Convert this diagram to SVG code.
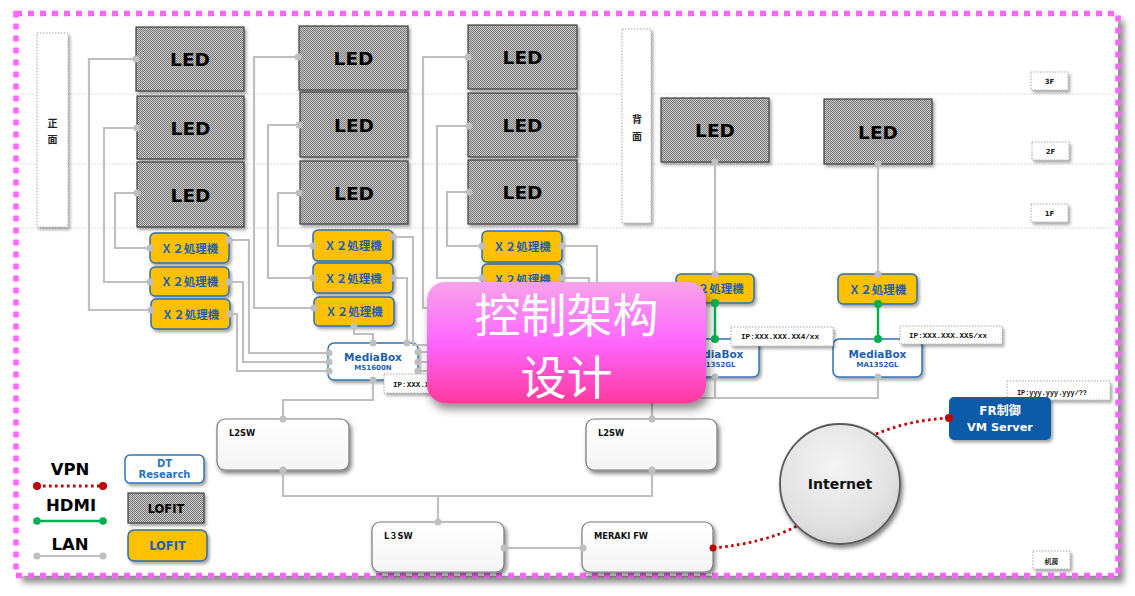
<svg xmlns="http://www.w3.org/2000/svg" width="1135" height="596" viewBox="0 0 1135 596">
<defs>
<style>
.led{fill:url(#chk);stroke:#3f3f3f;stroke-width:1.2;filter:url(#sh)}
.ledt{font-family:"DejaVu Sans",sans-serif;font-weight:bold;font-size:18.5px;fill:#000;text-anchor:middle}
.x2{fill:#ffc000;stroke:#2e6db4;stroke-width:1.5;filter:url(#sh)}
.x2t{font-family:"Noto Sans CJK JP",sans-serif;font-weight:bold;font-size:11.5px;fill:#1f5fae;text-anchor:middle}
.mb{fill:#fff;stroke:#2e75b6;stroke-width:1.5;filter:url(#sh)}
.mbt{font-family:"DejaVu Sans",sans-serif;font-weight:bold;font-size:10.5px;fill:#1f5fae;text-anchor:middle}
.mbs{font-family:"DejaVu Sans",sans-serif;font-weight:bold;font-size:7px;fill:#1f5fae;text-anchor:middle}
.lbl{fill:#fff;stroke:#a8a8a8;stroke-width:1;stroke-dasharray:1.5 1.5;filter:url(#sh)}
.ipt{font-family:"Liberation Mono",monospace;font-weight:bold;font-size:7.6px;fill:#111}
.flt{font-family:"DejaVu Sans",sans-serif;font-weight:bold;font-size:7px;fill:#222;text-anchor:middle}
.cjk{font-family:"Noto Sans CJK JP",sans-serif;font-weight:bold;font-size:10px;fill:#222;text-anchor:middle}
.sw{fill:url(#swg);stroke:#7a7a7a;stroke-width:1.2;filter:url(#sh2)}
.swt{font-family:"DejaVu Sans","Noto Sans CJK JP",sans-serif;font-weight:bold;font-size:8.3px;fill:#111}
.lan{fill:none;stroke:#bfbfbf;stroke-width:2.2}
.ld{fill:#bfbfbf}
.hdmi{fill:none;stroke:#00b050;stroke-width:2.4}
.hd{fill:#00b050}
.vpn{fill:none;stroke:#c00000;stroke-width:2.8;stroke-dasharray:2.6 3.4}
.vd{fill:#c00000}
.leg{font-family:"DejaVu Sans",sans-serif;font-weight:bold;font-size:16.5px;fill:#000;text-anchor:middle}
.floor{stroke:#d0d0d0;stroke-width:1;stroke-dasharray:1.5 1.5}
.ttl{font-family:"Noto Sans CJK SC",sans-serif;font-weight:400;font-size:46px;fill:#fff;text-anchor:middle}
</style>
<pattern id="chk" width="2" height="2" patternUnits="userSpaceOnUse">
<rect width="2" height="2" fill="#c6c6c6"/>
<rect width="1" height="1" fill="#7c7c7c"/>
<rect x="1" y="1" width="1" height="1" fill="#7c7c7c"/>
</pattern>
<linearGradient id="swg" x1="0" y1="0" x2="0" y2="1">
<stop offset="0" stop-color="#ffffff"/>
<stop offset="1" stop-color="#f4f4f4"/>
</linearGradient>
<linearGradient id="pinkg" x1="0" y1="0" x2="0" y2="1">
<stop offset="0" stop-color="#f7a3ea"/>
<stop offset="0.5" stop-color="#ff66ff"/>
<stop offset="1" stop-color="#ff3a9e"/>
</linearGradient>
<radialGradient id="netg" cx="0.45" cy="0.35" r="0.7">
<stop offset="0" stop-color="#f4f4f4"/>
<stop offset="0.7" stop-color="#e2e2e2"/>
<stop offset="1" stop-color="#cfcfcf"/>
</radialGradient>
<filter id="sh" x="-20%" y="-20%" width="150%" height="160%">
<feDropShadow dx="2" dy="2.5" stdDeviation="1.5" flood-color="#000" flood-opacity="0.35"/>
</filter>
<filter id="sh2" x="-20%" y="-20%" width="150%" height="170%">
<feDropShadow dx="2" dy="3" stdDeviation="2" flood-color="#000" flood-opacity="0.5"/>
</filter>
<filter id="shPage" x="-5%" y="-5%" width="110%" height="115%">
<feDropShadow dx="6" dy="7" stdDeviation="3" flood-color="#000" flood-opacity="0.45"/>
</filter>
<filter id="shBig" x="-20%" y="-20%" width="140%" height="150%">
<feDropShadow dx="3" dy="6" stdDeviation="5" flood-color="#000" flood-opacity="0.45"/>
</filter>
</defs>

<rect width="1135" height="596" fill="#fff"/>
<rect x="16" y="13.5" width="1102" height="562" fill="#fff" filter="url(#shPage)"/>
<rect x="16" y="13.5" width="1102" height="562" fill="none" stroke="#ff66ff" stroke-width="5.5" stroke-dasharray="6 6"/>

<g id="floors">
<line class="floor" x1="19" y1="94" x2="1115" y2="94"/>
<line class="floor" x1="19" y1="164" x2="1115" y2="164"/>
<line class="floor" x1="19" y1="228" x2="1115" y2="228"/>
</g>

<g id="front"><rect class="lbl" x="37" y="33" width="31" height="194"/><text class="cjk" x="52.5" y="126.5">正</text><text class="cjk" x="52.5" y="142.5">面</text></g>
<g id="back"><rect class="lbl" x="622" y="29" width="29" height="194"/><text class="cjk" x="637" y="122.5">背</text><text class="cjk" x="637" y="139.5">面</text></g>

<g id="f3"><rect class="lbl" x="1031" y="72" width="37" height="18"/><text class="flt" x="1049.5" y="83.5">3F</text></g>
<g id="f2"><rect class="lbl" x="1032" y="142" width="37" height="18"/><text class="flt" x="1050.5" y="153.5">2F</text></g>
<g id="f1"><rect class="lbl" x="1031" y="204" width="37" height="18"/><text class="flt" x="1049.5" y="215.5">1F</text></g>
<g id="room"><rect class="lbl" x="1033" y="551" width="37" height="18"/><text class="cjk" x="1051.5" y="563.5" style="font-size:7px">机房</text></g>

<g id="led-1a"><rect class="led" x="136" y="27" width="108" height="64"/><text class="ledt" x="190" y="66">LED</text></g>
<g id="led-1b"><rect class="led" x="137" y="96" width="107" height="63"/><text class="ledt" x="190.5" y="134.5">LED</text></g>
<g id="led-1c"><rect class="led" x="137" y="162" width="107" height="65"/><text class="ledt" x="190.5" y="201.5">LED</text></g>
<g id="led-2a"><rect class="led" x="299" y="26" width="109" height="64"/><text class="ledt" x="353.5" y="65">LED</text></g>
<g id="led-2b"><rect class="led" x="300" y="92" width="108" height="65"/><text class="ledt" x="354" y="131.5">LED</text></g>
<g id="led-2c"><rect class="led" x="300" y="161" width="108" height="63"/><text class="ledt" x="354" y="199.5">LED</text></g>
<g id="led-3a"><rect class="led" x="468" y="25" width="109" height="64"/><text class="ledt" x="522.5" y="64">LED</text></g>
<g id="led-3b"><rect class="led" x="468" y="93" width="109" height="64"/><text class="ledt" x="522.5" y="132">LED</text></g>
<g id="led-3c"><rect class="led" x="468" y="160" width="109" height="64"/><text class="ledt" x="522.5" y="199">LED</text></g>
<g id="led-a"><rect class="led" x="661" y="98" width="108" height="64"/><text class="ledt" x="715" y="137">LED</text></g>
<g id="led-b"><rect class="led" x="824" y="99" width="108" height="65"/><text class="ledt" x="878" y="138.5">LED</text></g>

<g id="x2-1a"><rect class="x2" x="150" y="233" width="79" height="30" rx="5"/><text class="x2t" x="189.5" y="252.5">Ｘ２処理機</text></g>
<g id="x2-1b"><rect class="x2" x="150" y="267" width="79" height="29" rx="5"/><text class="x2t" x="189.5" y="286">Ｘ２処理機</text></g>
<g id="x2-1c"><rect class="x2" x="151" y="299" width="79" height="30" rx="5"/><text class="x2t" x="190.5" y="318.5">Ｘ２処理機</text></g>
<g id="x2-2a"><rect class="x2" x="313" y="230" width="80" height="31" rx="5"/><text class="x2t" x="353" y="250">Ｘ２処理機</text></g>
<g id="x2-2b"><rect class="x2" x="313" y="263" width="80" height="30" rx="5"/><text class="x2t" x="353" y="282.5">Ｘ２処理機</text></g>
<g id="x2-2c"><rect class="x2" x="314" y="297" width="80" height="29" rx="5"/><text class="x2t" x="354" y="316">Ｘ２処理機</text></g>
<g id="x2-3a"><rect class="x2" x="482" y="231" width="80" height="31" rx="5"/><text class="x2t" x="522" y="251">Ｘ２処理機</text></g>
<g id="x2-3b"><rect class="x2" x="482" y="264" width="80" height="30" rx="5"/><text class="x2t" x="522" y="283.5">Ｘ２処理機</text></g>
<g id="x2-a"><rect class="x2" x="676" y="274" width="78" height="29" rx="5"/><text class="x2t" x="715" y="293">Ｘ２処理機</text></g>
<g id="x2-b"><rect class="x2" x="838" y="274" width="79" height="30" rx="5"/><text class="x2t" x="877.5" y="293.5">Ｘ２処理機</text></g>

<g id="mb-1"><rect class="mb" x="328" y="343" width="90" height="37" rx="6"/><text class="mbt" x="373" y="361">MediaBox</text><text class="mbs" x="373" y="370">MS1600N</text></g>
<g id="mb-a"><rect class="mb" x="670" y="339" width="89" height="38" rx="6"/><text class="mbt" x="714.5" y="358">MediaBox</text><text class="mbs" x="714.5" y="367">MA1352GL</text></g>
<g id="mb-b"><rect class="mb" x="833" y="339" width="89" height="38" rx="6"/><text class="mbt" x="877.5" y="358">MediaBox</text><text class="mbs" x="877.5" y="367">MA1352GL</text></g>

<g id="ip-1"><rect class="lbl" x="384" y="374" width="60" height="19"/><text class="ipt" x="393" y="387">IP:XXX.X</text></g>
<g id="ip-a"><rect class="lbl" x="731" y="327" width="102" height="19"/><text class="ipt" x="741" y="339" textLength="78" lengthAdjust="spacingAndGlyphs">IP:XXX.XXX.XX4/xx</text></g>
<g id="ip-b"><rect class="lbl" x="900" y="326" width="102" height="18"/><text class="ipt" x="909" y="338" textLength="78" lengthAdjust="spacingAndGlyphs">IP:XXX.XXX.XX5/xx</text></g>
<g id="ip-y"><rect class="lbl" x="1007" y="381" width="103" height="19"/><text class="ipt" x="1017" y="394.5" textLength="70" lengthAdjust="spacingAndGlyphs">IP:yyy.yyy.yyy/??</text></g>

<g id="l2sw-1"><rect class="sw" x="217" y="419" width="132" height="51" rx="8"/><text class="swt" x="229" y="436">L2SW</text></g>
<g id="l2sw-2"><rect class="sw" x="586" y="419" width="131" height="51" rx="8"/><text class="swt" x="598" y="436">L2SW</text></g>
<g id="l3sw"><rect class="sw" x="372" y="522" width="132" height="50" rx="8"/><text class="swt" x="384" y="539">L３SW</text></g>
<g id="meraki"><rect class="sw" x="582" y="522" width="131" height="50" rx="8"/><text class="swt" x="594" y="539">MERAKI FW</text></g>

<g id="fr"><rect x="949" y="397" width="102" height="43" rx="5" fill="#0b5aa8" filter="url(#sh)"/><text x="1000" y="415" text-anchor="middle" style="font-family:'DejaVu Sans','Noto Sans CJK JP',sans-serif;font-weight:bold;font-size:12px;fill:#fff">FR制御</text><text x="1000" y="431" text-anchor="middle" style="font-family:'DejaVu Sans',sans-serif;font-weight:bold;font-size:11.3px;fill:#fff">VM Server</text></g>

<g id="legend">
<text class="leg" x="70" y="475">VPN</text>
<text class="leg" x="71" y="511">HDMI</text>
<text class="leg" x="70" y="550">LAN</text>
<line class="vpn" x1="37" y1="486" x2="103" y2="486"/><circle class="vd" cx="37" cy="486" r="4"/><circle class="vd" cx="103" cy="486" r="4"/>
<line class="hdmi" x1="37" y1="521" x2="103" y2="521"/><circle class="hd" cx="37" cy="521" r="3.8"/><circle class="hd" cx="103" cy="521" r="3.8"/>
<line class="lan" x1="37" y1="556" x2="103" y2="556"/><circle class="ld" cx="37" cy="556" r="3.6"/><circle class="ld" cx="103" cy="556" r="3.6"/>
</g>
<g id="key-dt"><rect x="125" y="455" width="79" height="28" rx="5" fill="#fff" stroke="#2e75b6" stroke-width="1.5" filter="url(#sh)"/><text x="164.5" y="466.5" text-anchor="middle" style="font-family:'DejaVu Sans',sans-serif;font-weight:bold;font-size:10px;fill:#2a72c0">DT</text><text x="164.5" y="478" text-anchor="middle" style="font-family:'DejaVu Sans',sans-serif;font-weight:bold;font-size:10px;fill:#2a72c0">Research</text></g>
<g id="key-led"><rect class="led" x="128" y="493" width="76" height="30"/><text x="166" y="513" text-anchor="middle" style="font-family:'DejaVu Sans',sans-serif;font-weight:bold;font-size:11.5px;fill:#000">LOFIT</text></g>
<g id="key-x2"><rect class="x2" x="128" y="530" width="79" height="31" rx="6"/><text x="167.5" y="550" text-anchor="middle" style="font-family:'DejaVu Sans',sans-serif;font-weight:bold;font-size:11.5px;fill:#1f5fae">LOFIT</text></g>

<g id="connectors">
<path class="vpn" d="M713,548 Q765,543 797,526"/>
<path class="vpn" d="M876,434 Q910,420 949,418"/>
<g id="lan-lines">
<path class="lan" d="M136,59 H89 V310 H151"/>
<path class="lan" d="M137,128 H104 V282 H150"/>
<path class="lan" d="M137,193 H115 V248 H150"/>
<path class="lan" d="M229,240 H249 V353 H329"/>
<path class="lan" d="M229,282 H243 V362 H329"/>
<path class="lan" d="M229,314 H237 V371 H329"/>
<path class="lan" d="M298,57 H254 V308 H314"/>
<path class="lan" d="M299,125 H268 V278 H313"/>
<path class="lan" d="M299,193 H278 V246 H313"/>
<path class="lan" d="M393,237 H413 V345 H440"/>
<path class="lan" d="M393,278 H407 V343"/>
<path class="lan" d="M354,326 V334 H373 V343"/>
<path class="lan" d="M418,352 H440 M418,362 H440 M418,371 H440"/>
<path class="lan" d="M373,380 V400 H283 V419"/>
<path class="lan" d="M468,57 H423 V308 H440"/>
<path class="lan" d="M469,126 H437 V278 H482"/>
<path class="lan" d="M469,192 H447 V246 H482"/>
<path class="lan" d="M562,246 H597 V300"/>
<path class="lan" d="M562,278 H589 V300"/>
<path class="lan" d="M715,162 V274"/>
<path class="lan" d="M878,164 V274"/>
<path class="lan" d="M652,419 V398 H878 V377 M715,377 V398"/>
<path class="lan" d="M283,470 V496 H652 V470 M438,496 V522"/>
<path class="lan" d="M504,548 H583"/>
</g>
<g id="lan-dots">
<circle class="ld" cx="136" cy="59" r="3.5"/><circle class="ld" cx="137" cy="128" r="3.5"/><circle class="ld" cx="137" cy="193" r="3.5"/>
<circle class="ld" cx="151" cy="310" r="3.5"/><circle class="ld" cx="150" cy="282" r="3.5"/><circle class="ld" cx="150" cy="248" r="3.5"/>
<circle class="ld" cx="229" cy="240" r="3.5"/><circle class="ld" cx="229" cy="282" r="3.5"/><circle class="ld" cx="230" cy="314" r="3.5"/>
<circle class="ld" cx="329" cy="353" r="3.5"/><circle class="ld" cx="329" cy="362" r="3.5"/><circle class="ld" cx="329" cy="371" r="3.5"/>
<circle class="ld" cx="298" cy="57" r="3.5"/><circle class="ld" cx="299" cy="125" r="3.5"/><circle class="ld" cx="299" cy="193" r="3.5"/>
<circle class="ld" cx="314" cy="308" r="3.5"/><circle class="ld" cx="313" cy="278" r="3.5"/><circle class="ld" cx="313" cy="246" r="3.5"/>
<circle class="ld" cx="393" cy="237" r="3.5"/><circle class="ld" cx="393" cy="278" r="3.5"/><circle class="ld" cx="407" cy="343" r="3.5"/>
<circle class="ld" cx="354" cy="326" r="3.5"/><circle class="ld" cx="373" cy="343" r="3.5"/>
<circle class="ld" cx="418" cy="352" r="3.5"/><circle class="ld" cx="418" cy="362" r="3.5"/><circle class="ld" cx="418" cy="371" r="3.5"/>
<circle class="ld" cx="373" cy="380" r="3.5"/><circle class="ld" cx="283" cy="419" r="3.5"/><circle class="ld" cx="283" cy="470" r="3.5"/>
<circle class="ld" cx="652" cy="470" r="3.5"/><circle class="ld" cx="438" cy="522" r="3.5"/><circle class="ld" cx="652" cy="419" r="3.5"/>
<circle class="ld" cx="468" cy="57" r="3.5"/><circle class="ld" cx="469" cy="126" r="3.5"/><circle class="ld" cx="469" cy="192" r="3.5"/>
<circle class="ld" cx="482" cy="246" r="3.5"/><circle class="ld" cx="482" cy="278" r="3.5"/><circle class="ld" cx="562" cy="246" r="3.5"/><circle class="ld" cx="562" cy="278" r="3.5"/>
<circle class="ld" cx="715" cy="162" r="3.5"/><circle class="ld" cx="715" cy="274" r="3.5"/><circle class="ld" cx="878" cy="164" r="3.5"/><circle class="ld" cx="878" cy="274" r="3.5"/>
<circle class="ld" cx="715" cy="377" r="3.5"/><circle class="ld" cx="878" cy="377" r="3.5"/><circle class="ld" cx="504" cy="548" r="3.5"/><circle class="ld" cx="583" cy="548" r="3.5"/>
</g>
<g id="hdmi-lines">
<path class="hdmi" d="M715,303 V339 M878,304 V339"/>
<circle class="hd" cx="715" cy="303" r="4"/><circle class="hd" cx="715" cy="339" r="4"/>
<circle class="hd" cx="878" cy="304" r="4"/><circle class="hd" cx="878" cy="339" r="4"/>
</g>
<circle class="vd" cx="713" cy="548" r="3.5"/><circle class="vd" cx="949" cy="418" r="4"/>
</g>

<g id="internet"><circle cx="840" cy="484" r="60" fill="url(#netg)" stroke="#5a5a5a" stroke-width="1.8" filter="url(#sh2)"/><text x="840" y="489" text-anchor="middle" style="font-family:'DejaVu Sans',sans-serif;font-weight:bold;font-size:14px;fill:#111">Internet</text></g>

<g id="title"><rect x="427" y="282" width="279" height="121" rx="18" fill="url(#pinkg)" filter="url(#shBig)"/><text class="ttl" x="566.5" y="332">控制架构</text><text class="ttl" x="566.5" y="394">设计</text></g>
</svg>
